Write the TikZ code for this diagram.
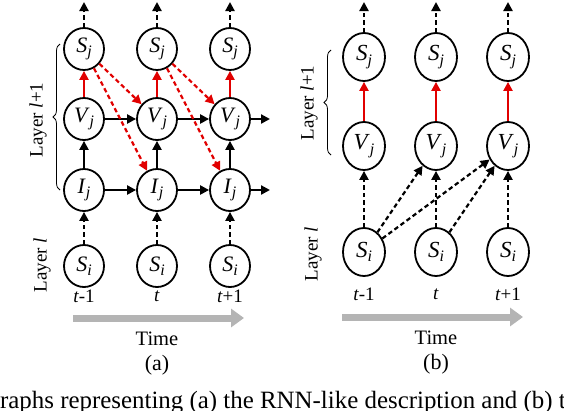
\documentclass[tikz,border=0pt]{standalone}
\usepackage{fontspec}
\setmainfont{Liberation Serif}
\usetikzlibrary{arrows.meta, shapes.geometric, decorations.pathreplacing}

% variable with subscript, as in the figure
\newcommand{\nvar}[2]{\textit{#1}\raisebox{-0.45ex}{\fontsize{16}{16}\selectfont\textit{#2}}}

\definecolor{linkred}{RGB}{225,0,0}
\definecolor{timegray}{RGB}{180,180,180}

\begin{document}
\begin{tikzpicture}[x=1pt, y=-1pt,
    unita/.style={ellipse, draw, line width=1.8pt, minimum width=40pt, minimum height=42pt, inner sep=0pt, font=\fontsize{22}{22}\selectfont},
    unitb/.style={unita, minimum width=42pt, minimum height=48pt, font=\fontsize{23}{23}\selectfont},
    link/.style={line width=2.2pt, -{Triangle[length=9pt,width=9pt]}},
    dlink/.style={link, dash pattern=on 4.5pt off 3pt},
    lbl/.style={font=\fontsize{19}{19}\selectfont},
    layer/.style={rotate=90, font=\fontsize{19}{19}\selectfont},
    plain/.style={font=\fontsize{20.5}{20.5}\selectfont},
    timearrow/.style={line width=7pt, timegray, -{Triangle[length=13pt,width=18pt]}},
    side/.style={decorate, decoration={brace, amplitude=7pt}, line width=0.8pt}]

  % Bounding box
  \useasboundingbox (0,0) rectangle (564,410);
  \clip (0,0) rectangle (564,410);

  % Panel (a): the nodes
  \foreach \k/\x/\t in {1/84/{\textit{t}-1}, 2/157/{\textit{t}}, 3/230/{\textit{t}+1}} {
    \node[unita] (sja\k) at (\x,49) {\nvar{S}{j}};
    \node[unita] (vja\k) at (\x,119) {\nvar{V}{j}};
    \node[unita] (ija\k) at (\x,190) {\nvar{I}{j}};
    \node[unita] (sia\k) at (\x,266) {\nvar{S}{i}};
    \node[lbl] (ta\k) at (\x,296) {\t};
    \coordinate (outa\k) at (\x,2);
    \draw[dlink] (sja\k) -- (outa\k);
    \draw[link, linkred] (vja\k) -- (sja\k);
    \draw[link] (ija\k) -- (vja\k);
    \draw[dlink] (sia\k) -- (ija\k);
  }
  \coordinate (vend) at (270,119);
  \coordinate (iend) at (270,190);
  \draw[link] (vja1) -- (vja2);
  \draw[link] (vja2) -- (vja3);
  \draw[link] (vja3) -- (vend);
  \draw[link] (ija1) -- (ija2);
  \draw[link] (ija2) -- (ija3);
  \draw[link] (ija3) -- (iend);

  % Panel (a): the red dashed links
  \draw[dlink, linkred] (sja1) -- (vja2);
  \draw[dlink, linkred] (sja1) -- (ija2);
  \draw[dlink, linkred] (sja2) -- (vja3);
  \draw[dlink, linkred] (sja2) -- (ija3);

  % Panel (a): layers and time
  \coordinate (bra1) at (60,190);
  \coordinate (bra2) at (60,44);
  \draw[side] (bra1) -- (bra2);
  \node[layer] (layerup) at (38,120) {Layer \textit{l}+1};
  \node[layer] (layerlow) at (42,265) {Layer \textit{l}};
  \coordinate (tsa) at (73,318);
  \coordinate (tea) at (244,318);
  \draw[timearrow] (tsa) -- (tea);
  \node[plain] (timea) at (157,339) {Time};
  \node[plain, font=\fontsize{22}{22}\selectfont] (capa) at (157,365) {(a)};

  % Panel (b): the nodes
  \foreach \k/\x/\t in {1/364/{\textit{t}-1}, 2/436/{\textit{t}}, 3/508/{\textit{t}+1}} {
    \node[unitb] (sjb\k) at (\x,57) {\nvar{S}{j}};
    \node[unitb] (vjb\k) at (\x,146) {\nvar{V}{j}};
    \node[unitb] (sib\k) at (\x,252) {\nvar{S}{i}};
    \node[lbl] (tb\k) at (\x,294) {\t};
    \coordinate (outb\k) at (\x,2);
    \draw[dlink] (sjb\k) -- (outb\k);
    \draw[link, linkred] (vjb\k) -- (sjb\k);
    \draw[dlink] (sib\k) -- (vjb\k);
  }
  \draw[dlink] (sib1) -- (vjb2);
  \draw[dlink] (sib1) -- (vjb3);
  \draw[dlink] (sib2) -- (vjb3);

  % Panel (b): layers and time
  \coordinate (brb1) at (331,155);
  \coordinate (brb2) at (331,50);
  \draw[side] (brb1) -- (brb2);
  \node[layer] (layerupb) at (309,103) {Layer \textit{l}+1};
  \node[layer] (layerlowb) at (313,254) {Layer \textit{l}};
  \coordinate (tsb) at (342,317);
  \coordinate (teb) at (523,317);
  \draw[timearrow] (tsb) -- (teb);
  \node[plain] (timeb) at (436,338) {Time};
  \node[plain, font=\fontsize{22}{22}\selectfont] (capb) at (436,364) {(b)};

  % Caption, cut by the frame
  \node[anchor=base west, inner sep=0pt, font=\fontsize{24.9}{24.9}\selectfont] (caption) at (-12.5,408) {graphs representing (a) the RNN-like description and (b) the};
\end{tikzpicture}
\end{document}
